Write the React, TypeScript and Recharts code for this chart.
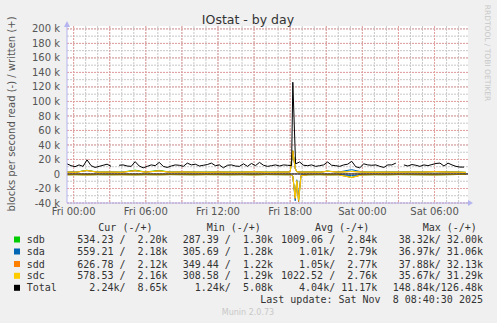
import React from 'react';
import { LineChart, Line, XAxis, YAxis, CartesianGrid, ReferenceLine, ReferenceDot } from 'recharts';

// time is in hours counted from Fri 00:00
const START_HOUR = -0.55;
const END_HOUR = 32.78;
const TOTAL_STEP = 1 / 3; // Total is sampled every 20 minutes

const timeTicks = [0, 6, 12, 18, 24, 30];
const timeLabels = ['Fri 00:00', 'Fri 06:00', 'Fri 12:00', 'Fri 18:00', 'Sat 00:00', 'Sat 06:00'];
const majorHours = [0, 3, 6, 9, 12, 15, 18, 21, 24, 27, 30];
const minorHours = [0, 1, 2, 3, 4, 5, 6, 7, 8, 9, 10, 11, 12, 13, 14, 15, 16, 17, 18, 19, 20, 21, 22, 23, 24, 25, 26, 27, 28, 29, 30, 31, 32];

const valueTicks = [-40000, -20000, 0, 20000, 40000, 60000, 80000, 100000, 120000, 140000, 160000, 180000, 200000];
const minorValues = [-40000, -30000, -20000, -10000, 0, 10000, 20000, 30000, 40000, 50000, 60000, 70000, 80000, 90000, 100000,
  110000, 120000, 130000, 140000, 150000, 160000, 170000, 180000, 190000, 200000];

// Total written, k blocks/s, one value per 20 min (null = no data)
const totalWrite = [
  14.0, 11.5, 10.0, 12.5, 10.5, 19.5, 11.5, 9.0, 10.5, 12.0,
  13.5, 10.5, null, 12.0, 12.5, 11.0, 10.5, 17.0, 11.0, 8.5,
  10.5, 12.5, 11.5, 16.0, 10.5, 9.0, 11.0, 12.5, 12.0, 10.5,
  15.0, 12.5, 13.5, 11.0, 12.0, 13.0, 15.0, 11.5, 12.5, 8.5,
  12.0, 12.5, 11.0, 10.5, 14.0, 10.5, 14.5, 11.5, 16.0, 12.0,
  10.5, 11.5, 12.5, 11.0, 12.5, 12.0, 11.5, 14.0, 16.5, 12.0,
  11.5, 12.5, 10.5, 11.5, 12.5, 16.5, 12.0, 11.5, 10.5, 12.5,
  13.5, 17.5, 10.0, 8.5, 14.0, 12.5, 12.0, 12.5, 10.5, 9.0,
  12.5, 12.5, 15.0, null, 12.5, 11.0, 13.0, 12.0, 10.5, 12.5,
  11.5, 13.0, 14.5, 15.0, 11.0, 15.0, 12.5, 10.5, 9.5, 9.5,
];
const spikeHour = 18.22;
const spikeTotalWrite = 126.48;

// per-disk samples (k blocks/s), written positive, read plotted below zero
const diskHours = [-0.55, 0.2, 1.1, 2.0, 3.0, 4.0, 5.1, 6.0, 7.1, 8.0, 9.0, 10.0, 11.0, 12.0, 13.0, 14.0, 15.0, 16.0, 17.0, 18.0,
  18.22, 18.42, 18.55, 18.7, 18.9, 19.5, 20.5, 21.1, 22.0, 23.1, 24.0, 25.0, 26.0, 27.0, 28.0, 29.0, 30.0, 31.0, 32.0, 32.6];

const sdbWrite = [2.7, 2.5, 5.2, 2.6, 2.8, 2.5, 5.3, 2.7, 5.0, 2.6, 2.9, 2.7, 2.5, 2.8, 2.6, 2.7, 3.1, 2.5, 2.7, 2.9,
  32.0, 8.0, 3.3, 3.0, 2.7, 2.8, 2.6, 4.0, 2.7, 3.6, 2.8, 2.5, 2.7, 2.6, 2.9, 2.7, 3.3, 2.8, 2.6, 2.2];
const sdaWrite = [2.6, 2.5, 4.6, 2.5, 2.7, 2.4, 4.4, 2.6, 4.1, 2.5, 2.8, 2.6, 2.4, 2.7, 2.5, 2.6, 2.9, 2.4, 2.6, 2.8,
  31.06, 7.2, 3.1, 2.9, 2.6, 2.7, 2.5, 3.7, 2.6, 6.0, 2.7, 2.4, 2.6, 2.5, 2.8, 2.6, 3.1, 2.7, 2.5, 2.18];
const sddWrite = [2.5, 2.4, 4.7, 2.4, 2.6, 2.3, 4.5, 2.5, 4.2, 2.4, 2.7, 2.5, 2.3, 2.6, 2.4, 2.5, 2.9, 2.3, 2.5, 2.7,
  32.13, 7.6, 3.1, 2.8, 2.5, 2.6, 2.4, 3.7, 2.5, 3.4, 2.6, 2.3, 2.5, 2.4, 2.7, 2.5, 3.1, 2.6, 2.4, 2.12];
const sdcWrite = [2.6, 2.4, 4.8, 2.5, 2.7, 2.4, 4.5, 2.6, 4.2, 2.5, 2.8, 2.6, 2.4, 2.7, 2.5, 2.6, 3.0, 2.4, 2.6, 2.8,
  31.29, 7.5, 3.2, 2.9, 2.6, 2.7, 2.5, 3.8, 2.6, 3.5, 2.7, 2.4, 2.6, 2.5, 2.8, 2.6, 3.2, 2.7, 2.5, 2.16];

const sdbRead = [1.0, 0.9, 1.1, 0.9, 1.0, 0.9, 1.1, 0.9, 1.0, 0.8, 0.9, 1.0, 0.8, 0.9, 1.0, 0.9, 1.1, 0.8, 0.9, 1.0,
  3.0, 31.0, 10.0, 38.32, 2.0, 1.0, 0.9, 1.2, 1.0, 4.5, 1.1, 0.9, 1.0, 0.8, 0.9, 1.0, 1.1, 0.9, 0.7, 0.53];
const sdaRead = [1.0, 0.9, 1.0, 0.9, 1.0, 0.9, 1.1, 0.9, 1.0, 0.8, 0.9, 1.0, 0.8, 0.9, 1.0, 0.9, 1.0, 0.8, 0.9, 1.0,
  2.5, 36.97, 8.0, 30.0, 1.8, 1.0, 0.9, 1.1, 1.0, 2.2, 1.1, 0.9, 1.0, 0.8, 0.9, 1.0, 1.1, 0.9, 0.7, 0.56];
const sddRead = [1.1, 0.9, 1.2, 0.9, 1.0, 1.0, 1.1, 0.9, 1.1, 0.8, 0.9, 1.0, 0.9, 0.9, 1.0, 0.9, 1.1, 0.8, 0.9, 1.0,
  3.2, 34.0, 11.0, 37.88, 2.2, 1.0, 0.9, 1.2, 1.0, 5.0, 1.1, 0.9, 1.0, 0.8, 0.9, 1.0, 1.1, 0.9, 0.7, 0.63];
const sdcRead = [1.0, 0.9, 1.2, 0.8, 0.9, 1.0, 1.1, 0.9, 1.0, 0.8, 0.9, 1.0, 0.8, 0.9, 1.0, 0.9, 1.1, 0.8, 0.9, 1.0,
  2.8, 33.0, 9.0, 35.67, 1.9, 1.0, 0.9, 1.2, 1.0, 4.8, 1.1, 0.9, 1.0, 0.8, 0.9, 1.0, 1.1, 0.9, 0.7, 0.58];

const seriesNames = ['sdb', 'sda', 'sdd', 'sdc', 'Total'];
const seriesColors = ['#00cc00', '#0066b3', '#ff8000', '#ffcc00', '#000000'];
const curCol = ['534.23 /  2.20k', '559.21 /  2.18k', '626.78 /  2.12k', '578.53 /  2.16k', '  2.24k/  8.65k'];
const minCol = ['287.39 /  1.30k', '305.69 /  1.28k', '349.44 /  1.22k', '308.58 /  1.29k', '  1.24k/  5.08k'];
const avgCol = ['1009.06 /  2.84k', '   1.01k/  2.79k', '   1.05k/  2.77k', '1022.52 /  2.76k', '   4.04k/ 11.17k'];
const maxCol = [' 38.32k/ 32.00k', ' 36.97k/ 31.06k', ' 37.88k/ 32.13k', ' 35.67k/ 31.29k', '148.84k/126.48k'];

const W = 497;
const H = 323;
const AXIS = '#b4b4f0';

const totalData = totalWrite
  .map((v, i) => ({ t: START_HOUR + i * TOTAL_STEP, v: v === null ? null : v * 1000 }))
  .concat([{ t: spikeHour, v: spikeTotalWrite * 1000 }])
  .sort((a, b) => a.t - b.t);

const disks = [
  { key: 'sdb', color: seriesColors[0], write: sdbWrite, read: sdbRead },
  { key: 'sda', color: seriesColors[1], write: sdaWrite, read: sdaRead },
  { key: 'sdd', color: seriesColors[2], write: sddWrite, read: sddRead },
  { key: 'sdc', color: seriesColors[3], write: sdcWrite, read: sdcRead },
];

const diskData = diskHours.map((t, i) => {
  const row: Record<string, number> = { t };
  disks.forEach((d) => {
    row[d.key + 'W'] = d.write[i] * 1000;
    row[d.key + 'R'] = -d.read[i] * 1000;
  });
  return row;
});

const fmtValue = (v: number) => (v === 0 ? '0' : `${v / 1000} k`);
const fmtTime = (v: number) => timeLabels[timeTicks.indexOf(v)] ?? '';

const UpArrow = (p: any) => (
  <path d={`M${p.cx - 3},${p.cy + 1} L${p.cx},${p.cy - 5} L${p.cx + 3},${p.cy + 1} Z`} fill={AXIS} />
);
const RightArrow = (p: any) => (
  <path d={`M${p.cx},${p.cy - 3} L${p.cx + 5},${p.cy} L${p.cx},${p.cy + 3} Z`} fill={AXIS} />
);

const rowY = [243, 255, 267.5, 279.3, 291.3];
const mono = { fontFamily: 'DejaVu Sans Mono', fontSize: 10, fill: '#333', whiteSpace: 'pre' as const };

export default function App() {
  return (
    <div style={{ position: 'absolute', left: 0, top: 0, width: W, height: H, background: '#f0f0f0', overflow: 'hidden' }}>
      <LineChart width={W} height={233} margin={{ top: 26, right: 29, bottom: 0, left: 0 }}>
        <CartesianGrid fill="#ffffff" stroke="#c8c8c8" strokeDasharray="2 1"
          horizontalValues={minorValues} verticalValues={minorHours} />
        <CartesianGrid stroke="#e3a0a0" strokeDasharray="2 1"
          horizontalValues={valueTicks} verticalValues={majorHours} />
        <XAxis type="number" dataKey="t" domain={[START_HOUR, END_HOUR]} allowDataOverflow ticks={timeTicks} interval={0}
          tickFormatter={fmtTime} height={30} tickLine={false} tickSize={0} tickMargin={5}
          axisLine={{ stroke: AXIS }} tick={{ fontSize: 10, fill: '#555', fontFamily: 'DejaVu Sans' }} />
        <YAxis type="number" domain={[-40000, 204000]} allowDataOverflow ticks={valueTicks} interval={0} tickFormatter={fmtValue}
          width={67} tickLine={false} tickSize={5} tickMargin={2}
          axisLine={{ stroke: AXIS }} tick={{ fontSize: 10, fill: '#555', fontFamily: 'DejaVu Sans' }} />
        {disks.map((d) => (
          <Line key={d.key + 'R'} data={diskData} dataKey={d.key + 'R'} stroke={d.color} strokeWidth={1}
            dot={false} activeDot={false} isAnimationActive={false} />
        ))}
        {disks.map((d) => (
          <Line key={d.key + 'W'} data={diskData} dataKey={d.key + 'W'} stroke={d.color} strokeWidth={1}
            dot={false} activeDot={false} isAnimationActive={false} />
        ))}
        <ReferenceLine y={0} stroke="#000" strokeWidth={1} />
        <Line data={totalData} dataKey="v" stroke="#000" strokeWidth={1} dot={false} activeDot={false}
          connectNulls={false} isAnimationActive={false} />
        <ReferenceDot x={START_HOUR} y={204000} ifOverflow="visible" shape={UpArrow} />
        <ReferenceDot x={END_HOUR} y={-40000} ifOverflow="visible" shape={RightArrow} />
      </LineChart>

      <svg width={W} height={H} style={{ position: 'absolute', left: 0, top: 0, pointerEvents: 'none' }}>
        <text x={248} y={24} textAnchor="middle" fontFamily="DejaVu Sans" fontSize={12.5} fill="#333">IOstat - by day</text>
        <text transform="translate(15,114) rotate(-90)" textAnchor="middle" fontFamily="DejaVu Sans" fontSize={10} fill="#555">
          blocks per second read (-) / written (+)
        </text>
        <text transform="translate(485,53) rotate(90)" textAnchor="middle" fontFamily="DejaVu Sans" fontSize={7.5} fill="#c8c8c8">
          RRDTOOL / TOBI OETIKER
        </text>

        <text x={98.3} y={231} style={mono}>Cur (-/+)</text>
        <text x={206.7} y={231} style={mono}>Min (-/+)</text>
        <text x={315} y={231} style={mono}>Avg (-/+)</text>
        <text x={422.7} y={231} style={mono}>Max (-/+)</text>

        {seriesNames.map((name, i) => (
          <g key={name}>
            <rect x={14} y={rowY[i] - 6.5} width={6} height={6} fill={seriesColors[i]} />
            <text x={26.7} y={rowY[i]} style={mono}>{name}</text>
            <text x={77.3} y={rowY[i]} style={mono}>{curCol[i]}</text>
            <text x={182.7} y={rowY[i]} style={mono}>{minCol[i]}</text>
            <text x={281} y={rowY[i]} style={mono}>{avgCol[i]}</text>
            <text x={392.7} y={rowY[i]} style={mono}>{maxCol[i]}</text>
          </g>
        ))}
        <text x={483} y={303} textAnchor="end" style={mono}>Last update: Sat Nov  8 08:40:30 2025</text>
        <text x={248} y={315} textAnchor="middle" fontFamily="DejaVu Sans" fontSize={8} fill="#c8c8c8">Munin 2.0.73</text>
      </svg>
    </div>
  );
}
